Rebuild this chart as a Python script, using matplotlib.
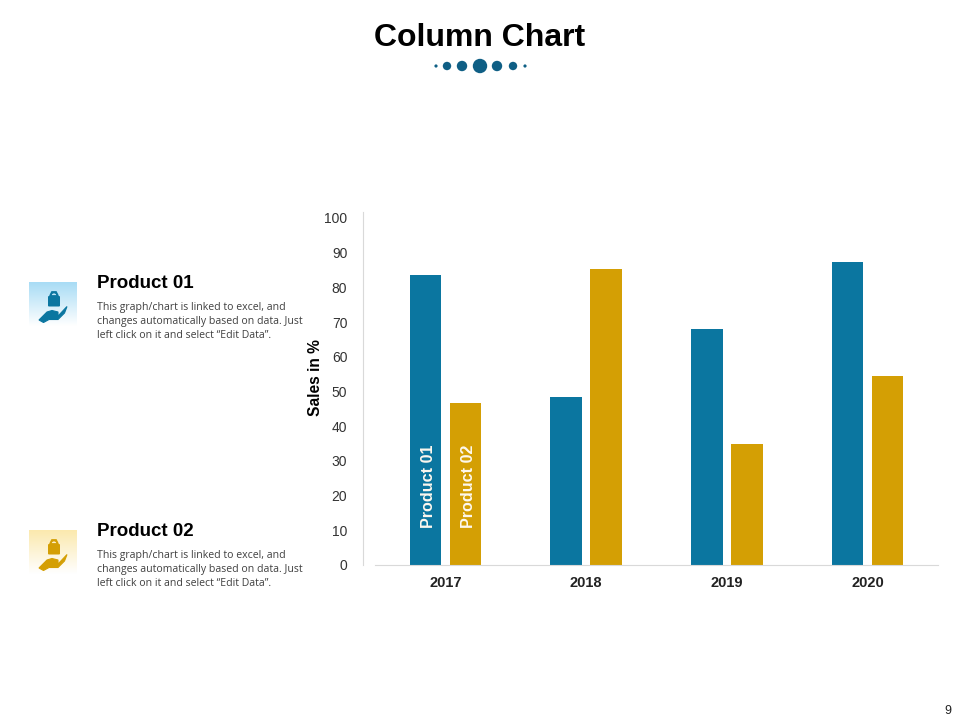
#!/usr/bin/env python3
"""Column chart slide with two product notes on the left."""

import matplotlib
matplotlib.use("Agg")
import matplotlib.pyplot as plt
from matplotlib.patches import Circle, Polygon, FancyBboxPatch, Wedge
import numpy as np

years = ["2017", "2018", "2019", "2020"]
product_01 = [83.6, 48.4, 68.0, 87.3]
product_02 = [46.7, 85.3, 34.9, 54.5]
y_ticks = list(range(0, 101, 10))
series_names = ["Product 01", "Product 02"]
note_text = ("This graph/chart is linked to excel, and\n"
             "changes automatically based on data. Just\n"
             "left click on it and select \u201cEdit Data\u201d.")

BLUE = "#0b76a0"
GOLD = "#d49f04"
DOT = "#0f5f85"
W, H = 960, 720


def px_axes(fig, left, top, right, bottom):
    return fig.add_axes([left / W, 1 - bottom / H, (right - left) / W, (bottom - top) / H])


def draw_icon(ax, x0, y0, tint, color):
    # gradient box fading to white at the bottom
    grad = np.linspace(0, 1, 64)[:, None]
    rgb = np.array(matplotlib.colors.to_rgb(tint))
    img = np.ones((64, 1, 3)) * (1 - grad[:, :, None]) + rgb * grad[:, :, None]
    img = img[::-1]
    ax.imshow(img, extent=(x0, x0 + 48, y0 + 44, y0), aspect="auto", zorder=1)
    # bag
    ax.add_patch(FancyBboxPatch((x0 + 19, y0 + 14), 12, 10.5, boxstyle="round,pad=0,rounding_size=1",
                                fc=color, ec="none", zorder=2))
    ax.add_patch(Wedge((x0 + 25, y0 + 14), 4, 180, 360, width=1.4, fc=color, ec="none", zorder=2))
    ax.add_patch(Polygon([(x0 + 21, y0 + 14), (x0 + 23, y0 + 10), (x0 + 27, y0 + 10), (x0 + 29, y0 + 14)],
                         closed=True, fc="none", ec=color, lw=1.3, zorder=2))
    # hand
    ax.add_patch(Polygon([(x0 + 10, y0 + 38), (x0 + 18, y0 + 30), (x0 + 23, y0 + 28.5), (x0 + 29, y0 + 30),
                          (x0 + 29, y0 + 32), (x0 + 23, y0 + 33), (x0 + 30, y0 + 33), (x0 + 38, y0 + 24.5),
                          (x0 + 35.5, y0 + 31), (x0 + 29, y0 + 37.5), (x0 + 20, y0 + 37.5), (x0 + 14.5, y0 + 40.5)],
                         closed=True, fc=color, ec=color, lw=0.8, zorder=2))


fig = plt.figure(figsize=(9.6, 7.2), dpi=100, facecolor="white")
plt.rcParams["font.family"] = ["Liberation Sans", "DejaVu Sans"]

# overlay in pixel coordinates for the slide furniture
bg = fig.add_axes([0, 0, 1, 1])
bg.set_xlim(0, W)
bg.set_ylim(H, 0)
bg.axis("off")

bg.text(480, 37.5, "Column Chart", ha="center", va="center", fontsize=23, fontweight="bold", color="black")
for cx, r in [(436, 1.6), (447, 4.2), (462, 5.2), (480, 7.2), (497, 5.2), (513, 4.2), (525, 1.6)]:
    bg.add_patch(Circle((cx, 66), r, fc=DOT, ec="none"))

for name, top, tint, color in [(series_names[0], 270, "#a8dcf5", BLUE), (series_names[1], 518, "#fbe9ae", GOLD)]:
    draw_icon(bg, 29, top + 12, tint, color)
    bg.text(97, top + 13, name, ha="left", va="center", fontsize=13.5, fontweight="bold", color="black")
    bg.text(97, top + 51.5, note_text, ha="left", va="center", fontsize=7.6, family="Open Sans",
            color="#404040", linespacing=1.38)
bg.set_xlim(0, W)
bg.set_ylim(H, 0)

bg.text(948, 711, "9", ha="center", va="center", fontsize=9, color="#222222")

# chart
ax = px_axes(fig, 375, 212, 938, 565)
ax.patch.set_alpha(0)
x = np.arange(len(years))
bar_w = 0.225
offset = 20 / 141
bars_a = ax.bar(x - offset, product_01, bar_w, color=BLUE)
bars_b = ax.bar(x + offset, product_02, bar_w, color=GOLD)

ax.set_xlim(-0.5, 3.5)
ax.set_ylim(0, 101.7)
ax.set_yticks(y_ticks)
ax.set_xticks(x)
ax.set_xticklabels(years, fontsize=10.5, fontweight="bold", color="#222222")
ax.tick_params(axis="both", length=0)
ax.tick_params(axis="x", pad=8)
ax.tick_params(axis="y", labelsize=10, labelcolor="#333333", pad=11.2)
ax.set_ylabel("Sales in %", fontsize=11.2, fontweight="bold", color="black")
ax.yaxis.set_label_coords((323 - 375) / 563, (565 - 378) / 353)

for side in ("top", "right"):
    ax.spines[side].set_visible(False)
ax.spines["left"].set_position(("outward", 8.7))
ax.spines["left"].set_color("#d9d9d9")
ax.spines["bottom"].set_color("#d9d9d9")

# series names sit inside the first pair of columns
for bar, name in zip((bars_a[0], bars_b[0]), series_names):
    ax.text(bar.get_x() + bar.get_width() / 2 + 0.022, 10.8, name, rotation=90, ha="center", va="bottom",
            fontsize=11.6, fontweight="bold", color="#fdf8ee")

fig.savefig("out.png", dpi=100)
